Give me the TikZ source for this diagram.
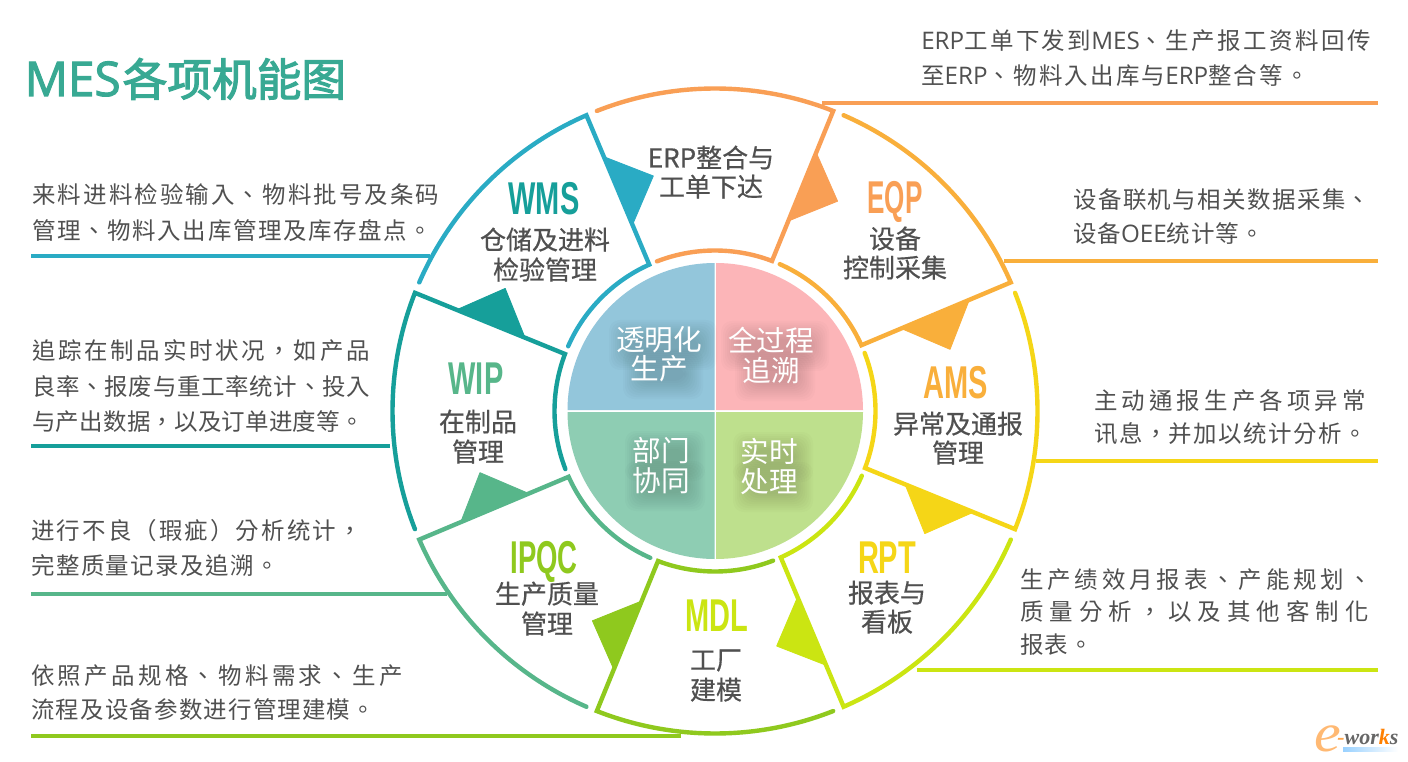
\documentclass[tikz,border=0pt]{standalone}
\usepackage{fontspec}
\setmainfont{Liberation Sans}
\newfontfamily\bodyf{Noto Sans CJK TC}
\newfontfamily\latf{Open Sans}[Scale=1.03]
\newfontfamily\labelf{Noto Sans CJK SC}[FakeBold=0.5]
\newfontfamily\titlef{Noto Sans CJK SC}
\newfontfamily\titleb{Noto Sans CJK SC}[FakeBold=2.6]
\newfontfamily\titlel{Open Sans}[FakeBold=2.2,Scale=1.07]
\newfontfamily\abbrf{Liberation Sans}[FakeStretch=0.63]
\newfontfamily\logof{Liberation Serif}
\definecolor{cWMS}{HTML}{2AABC4}
\definecolor{cWIP}{HTML}{169F9A}
\definecolor{cIPQC}{HTML}{57B68A}
\definecolor{cMDL}{HTML}{8FC91E}
\definecolor{cRPT}{HTML}{CBE512}
\definecolor{cAMS}{HTML}{F5D617}
\definecolor{cEQP}{HTML}{F9AF3B}
\definecolor{cERP}{HTML}{F99F55}
\definecolor{qBlue}{HTML}{93C6DB}
\definecolor{qPink}{HTML}{FCB5B8}
\definecolor{qTeal}{HTML}{8ECDB3}
\definecolor{qLime}{HTML}{BEE08D}
\definecolor{txt}{HTML}{505050}
\definecolor{lbl}{HTML}{505050}
\definecolor{ttl}{HTML}{38A993}
\tikzset{
  ring/.style={line width=3.3pt,line cap=round,line join=miter,miter limit=10},
  leader/.style={line width=3pt},
  bodytxt/.style={anchor=base west,inner sep=0pt,text=txt,font=\bodyf\fontsize{17.6}{20}\selectfont},
  labtxt/.style={anchor=base,inner sep=0pt,text=lbl,font=\labelf\fontsize{19.5}{22}\selectfont},
  quadtxt/.style={anchor=base,inner sep=0pt,text=white,font=\titlef\fontsize{21.5}{24}\selectfont},
  abbrtxt/.style={anchor=base,inner sep=0pt,font=\abbrf\bfseries\fontsize{34.5}{36}\selectfont},
}
\newcommand{\sector}[2]{%
  \pgfmathsetmacro{\aO}{#1+43}\pgfmathsetmacro{\aI}{#1+0.7}\pgfmathsetmacro{\aE}{#1+42.7}%
  \draw[ring,#2] plot[domain=\aO:#1,samples=40,smooth] ({715+322.5*cos(\x)},{411-322.5*sin(\x)})
     -- plot[domain=\aI:\aE,samples=30,smooth] ({715+160.5*cos(\x)},{411-160.5*sin(\x)});
  \pgfmathsetmacro{\aT}{#1-8.8}%
  \fill[#2,draw=#2,line width=.6pt,line join=round]
     ({715+277*cos(#1)},{411-277*sin(#1)}) -- ({715+243*cos(\aT)},{411-243*sin(\aT)}) -- ({715+205*cos(#1)},{411-205*sin(#1)}) -- cycle;
}
\newcommand{\quadrant}[5]{%
  \fill[#5] (#1,#2) -- plot[domain=#3:#4,samples=40] ({#1+147*cos(\x)},{#2-147*sin(\x)}) -- cycle;
}
\newcommand{\softshade}[4]{%
  \foreach \e in {-6,-4,...,12}{%
    \fill[black,opacity=.014,rounded corners=8pt] ({#1+4-#3/2-\e},{#2+5-#4/2-\e}) rectangle ({#1+4+#3/2+\e},{#2+5+#4/2+\e});
  }%
}
\newcommand{\bodyline}[5]{\node[bodytxt] (#1) at (#2,{#3+9}) {\addfontfeature{LetterSpace=#4}#5};}
\newcommand{\lat}[1]{{\latf #1}}
\newcommand{\labline}[4]{\node[labtxt] (#1) at (#2,{#3+9.5}) {#4};}
\newcommand{\qline}[4]{\node[quadtxt] (#1) at (#2,{#3+10.5}) {#4};}
\newcommand{\abbrv}[5]{\node[abbrtxt,text=#4] (#1) at (#2,{#3+16.5}) {#5};}
\newcommand{\leaderline}[5]{%
  \coordinate (#1a) at (#2,#4);\coordinate (#1b) at (#3,#4);
  \draw[leader,#5] (#1a) -- (#1b);
}
\begin{document}
\begin{tikzpicture}[x=.75pt,y=-.75pt]
\useasboundingbox (0,0) rectangle (1408,762);
\fill[white] (0,0) rectangle (1408,762);

% leaders
\leaderline{lERP}{822}{1378}{103}{cERP}
\leaderline{lEQP}{1004}{1378}{261}{cEQP}
\leaderline{lAMS}{1036}{1378}{461}{cAMS}
\leaderline{lRPT}{917}{1378}{670}{cRPT}
\leaderline{lWMS}{31}{430}{256}{cWMS}
\leaderline{lWIP}{31}{390}{446}{cWIP}
\leaderline{lIPQC}{31}{447}{594}{cIPQC}
\leaderline{lMDL}{31}{681}{736}{cMDL}

% ring sectors
\sector{113.5}{cWMS}
\sector{68.5}{cERP}
\sector{23.5}{cEQP}
\sector{-21.5}{cAMS}
\sector{-66.5}{cRPT}
\sector{-111.5}{cMDL}
\sector{-156.5}{cIPQC}
\sector{158.5}{cWIP}

% central quadrants
\quadrant{714.5}{410}{180}{90}{qBlue}
\quadrant{716}{410}{90}{0}{qPink}
\quadrant{714.5}{412}{270}{180}{qTeal}
\quadrant{716}{412}{360}{270}{qLime}
\softshade{659}{340}{84}{26}
\softshade{659}{369}{56}{26}
\softshade{771}{341}{84}{26}
\softshade{771}{371}{56}{26}
\softshade{661}{451}{56}{26}
\softshade{661}{481}{56}{26}
\softshade{769}{452}{56}{26}
\softshade{769}{482}{56}{26}
\qline{q1a}{659}{340}{透明化}
\qline{q1b}{659}{369}{生产}
\qline{q2a}{771}{341}{全过程}
\qline{q2b}{771}{371}{追溯}
\qline{q3a}{661}{451}{部门}
\qline{q3b}{661}{481}{协同}
\qline{q4a}{769}{452}{实时}
\qline{q4b}{769}{482}{处理}

% sector labels
\abbrv{aWMS}{544}{198}{cWIP}{WMS}
\labline{wms1}{545}{240}{仓储及进料}
\labline{wms2}{545}{270}{检验管理}
\labline{erp1}{711}{158}{ERP整合与}
\labline{erp2}{711}{187}{工单下达}
\abbrv{aEQP}{895}{197}{cERP}{\scalebox{.9}[1]{EQP}}
\labline{eqp1}{895}{239}{设备}
\labline{eqp2}{895}{268}{控制采集}
\abbrv{aAMS}{956}{382}{cEQP}{AMS}
\labline{ams1}{958}{424}{异常及通报}
\labline{ams2}{958}{453}{管理}
\abbrv{aRPT}{887}{557}{cAMS}{RPT}
\labline{rpt1}{887}{593}{报表与}
\labline{rpt2}{887}{622}{看板}
\abbrv{aMDL}{717}{615}{cRPT}{MDL}
\labline{mdl1}{716}{660}{工厂}
\labline{mdl2}{716}{690}{建模}
\abbrv{aIPQC}{544}{557}{cMDL}{\scalebox{.95}[1]{IPQC}}
\labline{ipq1}{547}{594}{生产质量}
\labline{ipq2}{547}{624}{管理}
\abbrv{aWIP}{476}{378}{cIPQC}{WIP}
\labline{wip1}{478}{422}{在制品}
\labline{wip2}{478}{452}{管理}

% title
\node[anchor=base west,inner sep=0pt,text=ttl,font=\titleb\fontsize{33.5}{36}\selectfont] (title) at (24.5,96) {{\titlel MES}\kern1.5pt 各项机能图};

% descriptions
\bodyline{d1a}{921}{41}{10.5}{\lat{ERP}工单下发到\lat{MES}、生产报工资料回传}
\bodyline{d1b}{921}{76}{9.5}{至\lat{ERP}、物料入出库与\lat{ERP}整合等。}
\bodyline{d2a}{1073}{200}{6}{设备联机与相关数据采集、}
\bodyline{d2b}{1073}{234}{4}{设备\lat{OEE}统计等。}
\bodyline{d3a}{1094}{400}{17.5}{主动通报生产各项异常}
\bodyline{d3b}{1094}{433}{6}{讯息，并加以统计分析。}
\bodyline{d4a}{1020}{579}{16.5}{生产绩效月报表、产能规划、}
\bodyline{d4b}{1020}{611}{26}{质量分析，以及其他客制化}
\bodyline{d4c}{1020}{644}{5}{报表。}
\bodyline{d5a}{32}{195}{9}{来料进料检验输入、物料批号及条码}
\bodyline{d5b}{32}{231}{7}{管理、物料入出库管理及库存盘点。}
\bodyline{d6a}{32}{351}{11.5}{追踪在制品实时状况，如产品}
\bodyline{d6b}{32}{386}{3}{良率、报废与重工率统计、投入}
\bodyline{d6c}{32}{421}{1}{与产出数据，以及订单进度等。}
\bodyline{d7a}{31}{530}{9}{进行不良（瑕疵）分析统计，}
\bodyline{d7b}{31}{565}{6}{完整质量记录及追溯。}
\bodyline{d8a}{31}{675}{14}{依照产品规格、物料需求、生产}
\bodyline{d8b}{31}{709}{5}{流程及设备参数进行管理建模。}

% logo
\shade[left color=blue!45!cyan!40!white,right color=white,draw=none] (1343,747) rectangle (1398,751);
\node[anchor=base,inner sep=0pt,text=orange!55!white,font=\logof\itshape\fontsize{41}{42}\selectfont] (logoE) at (1328,751) {\scalebox{1.1}[1]{e}};
\node[anchor=base west,inner sep=0pt,text=black!60,font=\logof\bfseries\itshape\fontsize{16.5}{18}\selectfont] (logoW) at (1337,744) {\textcolor{orange!70}{-}wor\textcolor{orange}{k}s};
\end{tikzpicture}
\end{document}
